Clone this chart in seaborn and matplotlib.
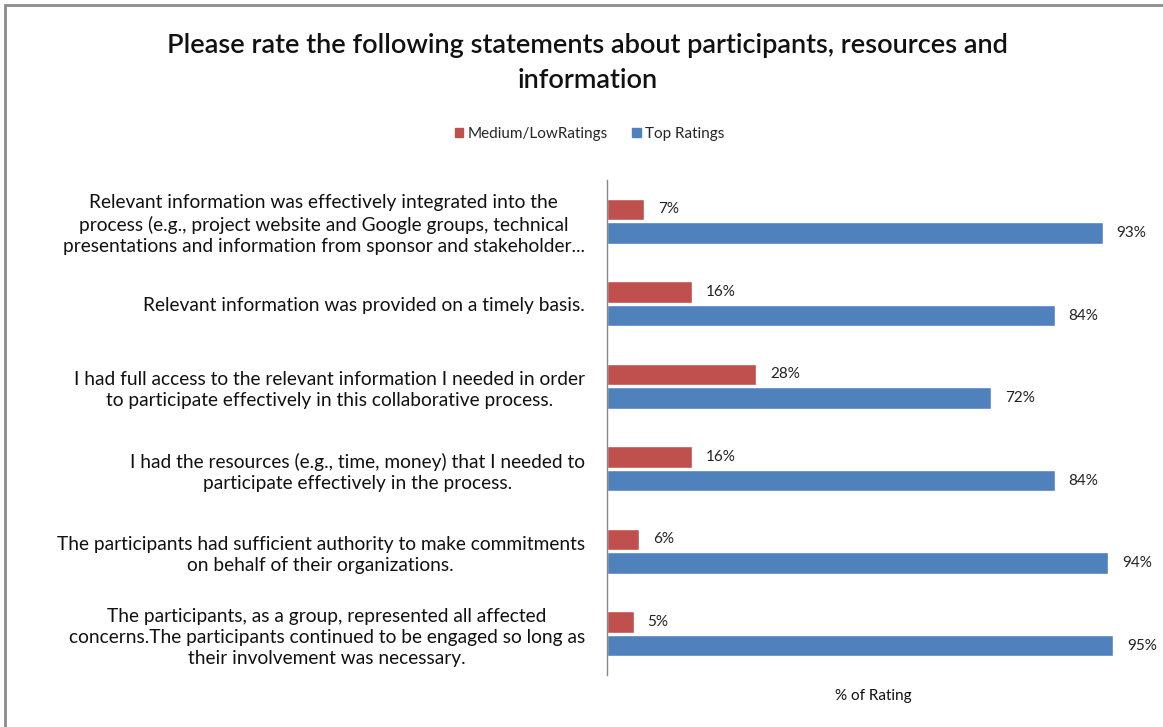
import seaborn as sns
import matplotlib.pyplot as plt
import matplotlib.patches as mpatches
import pandas as pd

statements = [
    "Relevant information was effectively integrated into the\nprocess (e.g., project website and Google groups, technical\npresentations and information from sponsor and stakeholder...",
    "Relevant information was provided on a timely basis.",
    "I had full access to the relevant information I needed in order\nto participate effectively in this collaborative process.",
    "I had the resources (e.g., time, money) that I needed to\nparticipate effectively in the process.",
    "The participants had sufficient authority to make commitments\non behalf of their organizations.",
    "The participants, as a group, represented all affected\nconcerns.The participants continued to be engaged so long as\ntheir involvement was necessary.",
]
medium_low = [7, 16, 28, 16, 6, 5]
top_ratings = [93, 84, 72, 84, 94, 95]
series = ["Medium/LowRatings", "Top Ratings"]
colors = ["#C0504D", "#4F81BD"]

df = pd.DataFrame({
    "Statement": statements * 2,
    "Rating": [series[0]] * len(statements) + [series[1]] * len(statements),
    "Value": medium_low + top_ratings,
})

sns.set_theme(style="white")
plt.rcParams['font.family'] = ['Lato', 'DejaVu Sans']

fig = plt.figure(figsize=(11.63, 7.27), dpi=100)
ax = fig.add_axes([607 / 1163, 1 - 675 / 727, (1140 - 607) / 1163, (675 - 180) / 727])

sns.barplot(data=df, y="Statement", x="Value", hue="Rating", hue_order=series,
            palette=colors, saturation=1, width=0.58, gap=0.1, orient="h",
            ax=ax, legend=False)

ax.set_xlim(0, 100)
ax.set_xticks([])
ax.set_xlabel("% of Rating", fontsize=11, labelpad=10, color='#111111')
ax.set_ylabel("")
ax.tick_params(axis='y', length=0, pad=16, labelsize=13.8, labelcolor='#111111')
for lbl in ax.get_yticklabels():
    lbl.set_multialignment('center')
    lbl.set_linespacing(1.3)

for axis in ['top', 'right', 'bottom']:
    ax.spines[axis].set_visible(False)
ax.spines['left'].set_color('#888888')
ax.spines['left'].set_linewidth(1)

for container in ax.containers:
    ax.bar_label(container, fmt="%d%%", padding=10, fontsize=11, color='#222222')

fig.text(0.505, 1 - 63 / 727,
         "Please rate the following statements about participants, resources and\ninformation",
         ha='center', va='center', fontsize=19.5, linespacing=1.45,
         fontweight='semibold', color='#111111')

handles = [mpatches.Patch(color=c, label=s) for c, s in zip(colors, series)]
fig.legend(handles=handles, loc='center', bbox_to_anchor=(0.507, 1 - 134 / 727),
           ncol=2, frameon=False, fontsize=11, handlelength=0.55, handleheight=0.55,
           handletextpad=0.3, columnspacing=1.6)

fig.patches.append(mpatches.Rectangle((5 / 1163, -0.1), 1.2, 1 - 5 / 727 + 0.1,
                                      transform=fig.transFigure, fill=False,
                                      edgecolor='#8c8c8c', linewidth=2))

fig.savefig("out.png", dpi=100)
